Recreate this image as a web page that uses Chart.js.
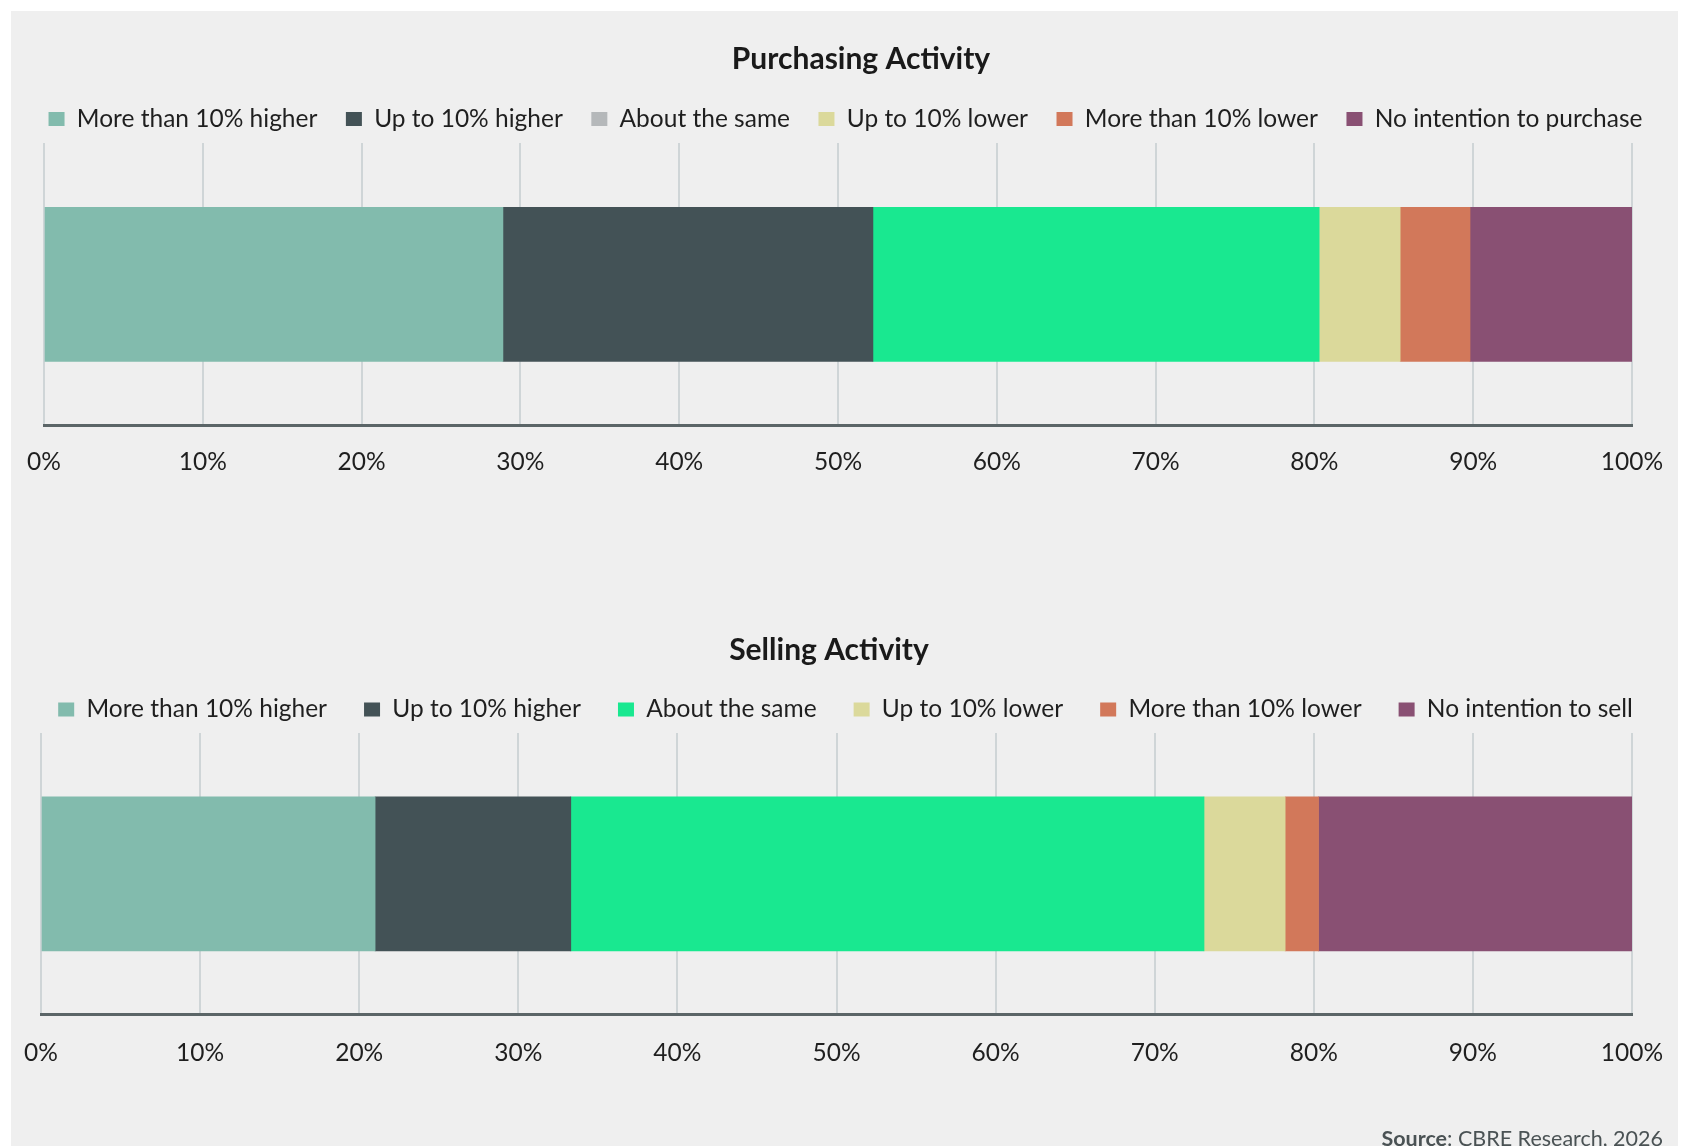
<!DOCTYPE html>
<html>
<head>
<meta charset="utf-8">
<script src="https://cdn.jsdelivr.net/npm/chart.js@4.4.1/dist/chart.umd.min.js"></script>
<style>
html, body { margin: 0; padding: 0; background: #ffffff; width: 1691px; height: 1146px; overflow: hidden; }
#panel { position: absolute; left: 11px; top: 11px; width: 1667px; height: 1135px; background: #efefef; }
canvas { position: absolute; left: 0; }
#c1 { top: 0; }
#c2 { top: 500px; }
#source { position: absolute; right: 28px; top: 1128px; font: 21.5px Lato, sans-serif; line-height: 1; color: #4a5254; white-space: nowrap; }
</style>
</head>
<body>
<div id="panel"></div>
<canvas id="c1" width="1691" height="499"></canvas>
<canvas id="c2" width="1691" height="646"></canvas>
<div id="source"><b>Source</b>: CBRE Research, 2026</div>
<script>
// ---- data ----
const categoryNames = ['More than 10% higher', 'Up to 10% higher', 'About the same', 'Up to 10% lower', 'More than 10% lower'];
const purchasingLabels = [...categoryNames, 'No intention to purchase'];
const sellingLabels = [...categoryNames, 'No intention to sell'];
const purchasingValues = [28.9, 23.3, 28.1, 5.1, 4.4, 10.2];
const sellingValues = [21.0, 12.3, 39.8, 5.1, 2.1, 19.7];
const xTickLabels = ['0%', '10%', '20%', '30%', '40%', '50%', '60%', '70%', '80%', '90%', '100%'];

// ---- styles ----
const FONT = 'Lato, "Open Sans", sans-serif';
const barColors = ['#82bbad', '#435256', '#19e890', '#dbd99b', '#d2785a', '#895073'];
const purchasingLegendColors = ['#82bbad', '#435256', '#b5b8ba', '#dbd99b', '#d2785a', '#895073'];
const sellingLegendColors = barColors;

const panelTitle = {
  id: 'panelTitle',
  afterDraw(chart, args, opts) {
    const ctx = chart.ctx;
    ctx.save();
    ctx.font = opts.font;
    ctx.fillStyle = opts.color;
    ctx.textAlign = 'center';
    ctx.textBaseline = 'middle';
    ctx.fillText(opts.text, opts.x, opts.y);
    ctx.restore();
  }
};

const legendPlace = {
  id: 'legendPlace',
  afterLayout(chart, args, opts) {
    const lg = chart.legend;
    if (!lg) return;
    const h = lg.height;
    lg.top = opts.top;
    lg.bottom = opts.top + h;
  }
};

function makeChart(id, title, labels, values, legendColors, g) {
  const datasets = labels.map((l, i) => ({
    label: l,
    data: [values[i]],
    backgroundColor: barColors[i],
    borderWidth: 0,
    barThickness: 154
  }));
  return new Chart(document.getElementById(id), {
    type: 'bar',
    data: { labels: [title], datasets },
    plugins: [panelTitle, legendPlace],
    options: {
      indexAxis: 'y',
      responsive: false,
      animation: false,
      devicePixelRatio: 1,
      layout: { padding: { top: g.legendTop, bottom: g.bottomPad, left: 0, right: 0 } },
      scales: {
        x: {
          stacked: true,
          min: 0, max: 100,
          ticks: {
            stepSize: 10,
            autoSkip: false,
            maxRotation: 0,
            padding: g.tickPad,
            color: '#1f1f1f',
            font: { family: FONT, size: 24.5 },
            callback: (v, i) => xTickLabels[i]
          },
          grid: { color: '#cfd5d7', lineWidth: 2, drawTicks: false },
          border: { color: '#5b6567', width: 3 },
          afterFit: (s) => {
            s.paddingLeft = g.left;
            s.paddingRight = 1691 - g.right;
            s.paddingTop = g.areaTop;
          }
        },
        y: { stacked: true, display: false }
      },
      plugins: {
        title: { display: false },
        tooltip: { enabled: false },
        legend: {
          display: true,
          position: 'top',
          labels: {
            boxWidth: 16,
            boxHeight: 14,
            padding: g.legendGap,
            color: '#1f1f1f',
            font: { family: FONT, size: 24.5 },
            generateLabels: () => labels.map((t, i) => ({
              text: t, fillStyle: legendColors[i], strokeStyle: legendColors[i],
              lineWidth: 0, hidden: false, datasetIndex: i, fontColor: '#1f1f1f'
            }))
          }
        },
        panelTitle: { text: title, x: g.titleX, y: g.titleY, font: 'bold 30px ' + FONT, color: '#1a1a1a' },
        legendPlace: { top: g.legendTop }
      }
    }
  });
}

makeChart('c1', 'Purchasing Activity', purchasingLabels, purchasingValues, purchasingLegendColors,
  { left: 44, right: 1632, areaTop: 143, legendTop: 78.3, legendGap: 28.5, bottomPad: 0, tickPad: 22, titleX: 861, titleY: 59 });
makeChart('c2', 'Selling Activity', sellingLabels, sellingValues, sellingLegendColors,
  { left: 41, right: 1632, areaTop: 233, legendTop: 160.3, legendGap: 37, bottomPad: 54, tickPad: 24, titleX: 829, titleY: 150 });
</script>
</body>
</html>
